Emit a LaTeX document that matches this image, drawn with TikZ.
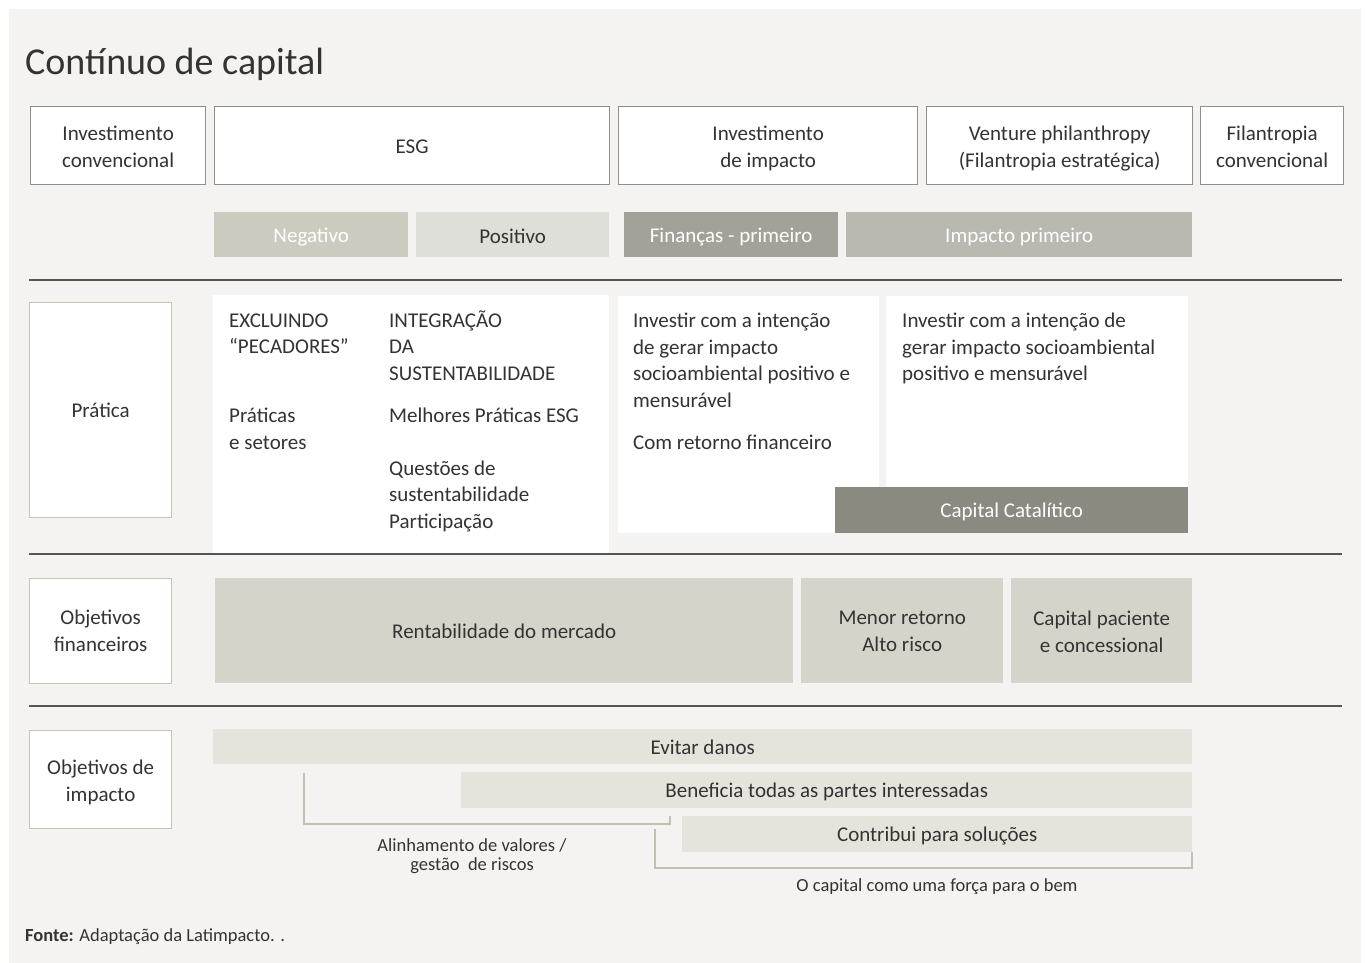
\documentclass[tikz,border=0pt]{standalone}
\usepackage{fontspec}
\setmainfont{Carlito}
\definecolor{bgc}{HTML}{F4F3F1}
\definecolor{topborder}{HTML}{8F8E88}
\definecolor{labborder}{HTML}{C7C4B4}
\definecolor{txt}{HTML}{333333}
\definecolor{negc}{HTML}{CDCBBF}
\definecolor{posc}{HTML}{DFDFDA}
\definecolor{finc}{HTML}{A3A29A}
\definecolor{impc}{HTML}{B9B9B2}
\definecolor{catc}{HTML}{8B8A80}
\definecolor{objc}{HTML}{D6D4CA}
\definecolor{goalc}{HTML}{E4E3DC}
\definecolor{linec}{HTML}{555555}
\definecolor{brc}{HTML}{C4C0B0}
\newcommand{\fntbody}{\fontsize{21}{26.8}\selectfont}
\newcommand{\fntsmall}{\fontsize{18.5}{19.2}\selectfont}
\newcommand{\fnttitle}{\fontsize{38}{44}\selectfont}
\begin{document}
\begin{tikzpicture}[x=1pt,y=-1pt,
  topbox/.style={draw=topborder, line width=1.3pt, fill=white, inner sep=0pt, anchor=north west},
  labbox/.style={draw=labborder, line width=1.3pt, fill=white, inner sep=0pt, anchor=north west},
  bar/.style={inner sep=0pt, anchor=north west},
  btxt/.style={inner sep=0pt, align=center, font=\fntbody, text=txt},
  wtxt/.style={inner sep=0pt, align=center, font=\fntbody, text=white},
  panel/.style={fill=white, inner sep=0pt, anchor=north west},
  ptxt/.style={inner sep=0pt, anchor=base west, font=\fntbody, text=txt},
  sepline/.style={draw=linec, line width=1.5pt},
  bracketline/.style={draw=brc, line width=1.3pt},
  smalltxt/.style={inner sep=0pt, align=center, font=\fntsmall, text=txt}
]
\useasboundingbox (0,0) rectangle (1365,963);
\fill[white] (0,0) rectangle (1365,963);
\fill[bgc] (9,9) rectangle (1361,963);

% title
\node[inner sep=0pt, anchor=base west, font=\fnttitle, text=txt] (title) at (25,75) {Contínuo de capital};

% top boxes
\node[topbox, minimum width=175, minimum height=78] (b1) at (30,106) {};
\node[btxt] (b1t) at ([yshift=-1pt]b1.center) {Investimento\\convencional};
\node[topbox, minimum width=395, minimum height=78] (b2) at (214,106) {};
\node[btxt] (b2t) at ([yshift=-1pt]b2.center) {ESG};
\node[topbox, minimum width=299, minimum height=78] (b3) at (618,106) {};
\node[btxt] (b3t) at ([yshift=-3pt]b3.center) {Investimento\\de impacto};
\node[topbox, minimum width=266, minimum height=78] (b4) at (926,106) {};
\node[btxt] (b4t) at ([yshift=-3pt]b4.center) {Venture philanthropy\\(Filantropia estratégica)};
\node[topbox, minimum width=143, minimum height=78] (b5) at (1200,106) {};
\node[btxt] (b5t) at ([yshift=-1pt]b5.center) {Filantropia\\convencional};

% sub bars
\node[bar, fill=negc, minimum width=194, minimum height=45] (neg) at (214,212) {};
\node[wtxt] (negt) at ([yshift=-2pt]neg.center) {Negativo};
\node[bar, fill=posc, minimum width=193, minimum height=45] (pos) at (416,212) {};
\node[btxt] (post) at ([yshift=-1.5pt]pos.center) {Positivo};
\node[bar, fill=finc, minimum width=214, minimum height=45] (fin) at (624,212) {};
\node[wtxt] (fint) at ([yshift=-2pt]fin.center) {Finanças - primeiro};
\node[bar, fill=impc, minimum width=346, minimum height=45] (imp) at (846,212) {};
\node[wtxt] (impt) at ([yshift=-2pt]imp.center) {Impacto primeiro};

% separator lines
\draw[sepline] (29,280) -- (1342,280);
\draw[sepline] (29,554) -- (1342,554);
\draw[sepline] (29,706) -- (1342,706);

% Prática row
\node[labbox, minimum width=142, minimum height=215] (lab1) at (29,302) {};
\node[btxt] (lab1t) at (lab1.center) {Prática};
\node[panel, minimum width=396, minimum height=258] (pan1) at (213,295) {};
\node[panel, minimum width=261, minimum height=237] (pan2) at (618,296) {};
\node[panel, minimum width=302, minimum height=200] (pan3) at (886,296) {};
\node[bar, fill=catc, minimum width=353, minimum height=46] (cat) at (835,487) {};
\node[wtxt] (catt) at ([yshift=-2pt]cat.center) {Capital Catalítico};

\node[ptxt] (t1) at (229,327) {EXCLUINDO};
\node[ptxt] (t2) at (229,353) {“PECADORES”};
\node[ptxt] (t3) at (229,422) {Práticas};
\node[ptxt] (t4) at (229,449) {e setores};

\node[ptxt] (u1) at (389,327) {INTEGRAÇÃO};
\node[ptxt] (u2) at (389,353) {DA};
\node[ptxt] (u3) at (389,380) {SUSTENTABILIDADE};
\node[ptxt] (u4) at (389,422) {Melhores Práticas ESG};
\node[ptxt] (u5) at (389,475) {Questões de};
\node[ptxt] (u6) at (389,501) {sustentabilidade};
\node[ptxt] (u7) at (389,528) {Participação};

\node[ptxt] (v1) at (633,327) {Investir com a intenção};
\node[ptxt] (v2) at (633,354) {de gerar impacto};
\node[ptxt] (v3) at (633,380) {socioambiental positivo e};
\node[ptxt] (v4) at (633,407) {mensurável};
\node[ptxt] (v5) at (633,449) {Com retorno financeiro};

\node[ptxt] (w1) at (902,327) {Investir com a intenção de};
\node[ptxt] (w2) at (902,354) {gerar impacto socioambiental};
\node[ptxt] (w3) at (902,380) {positivo e mensurável};

% Objetivos financeiros row
\node[labbox, minimum width=142, minimum height=105] (lab2) at (29,578) {};
\node[btxt] (lab2t) at (lab2.center) {Objetivos\\financeiros};
\node[bar, fill=objc, minimum width=578, minimum height=105] (o1) at (215,578) {};
\node[btxt] (o1t) at ([yshift=-1pt]o1.center) {Rentabilidade do mercado};
\node[bar, fill=objc, minimum width=202, minimum height=105] (o2) at (801,578) {};
\node[btxt] (o2t) at ([yshift=-1pt]o2.center) {Menor retorno\\Alto risco};
\node[bar, fill=objc, minimum width=181, minimum height=105] (o3) at (1011,578) {};
\node[btxt] (o3t) at ([yshift=-1pt]o3.center) {Capital paciente\\e concessional};

% Objetivos de impacto row
\node[labbox, minimum width=142, minimum height=98] (lab3) at (29,730) {};
\node[btxt] (lab3t) at ([yshift=-2.5pt]lab3.center) {Objetivos de\\impacto};
\node[bar, fill=goalc, minimum width=979, minimum height=35] (g1) at (213,729) {};
\node[btxt] (g1t) at ([yshift=-1pt]g1.center) {Evitar danos};
\node[bar, fill=goalc, minimum width=731, minimum height=36] (g2) at (461,772) {};
\node[btxt] (g2t) at ([yshift=-2pt]g2.center) {Beneficia todas as partes interessadas};
\node[bar, fill=goalc, minimum width=510, minimum height=36] (g3) at (682,816) {};
\node[btxt] (g3t) at ([yshift=-2pt]g3.center) {Contribui para soluções};

% brackets
\coordinate (k1a) at (304,773);
\coordinate (k1b) at (304,824);
\coordinate (k1c) at (670,824);
\coordinate (k1d) at (670,816);
\draw[bracketline] (k1a) -- (k1b) -- (k1c) -- (k1d);
\coordinate (k2a) at (655,829);
\coordinate (k2b) at (655,868);
\coordinate (k2c) at (1192,868);
\coordinate (k2d) at (1192,852);
\draw[bracketline] (k2a) -- (k2b) -- (k2c) -- (k2d);

\node[smalltxt] (al) at (472,856) {Alinhamento de valores /\\gestão\ \ de riscos};
\node[smalltxt] (cf) at (937,887) {O capital como uma força para o bem};

% source
\node[inner sep=0pt, anchor=base west, font=\fontsize{18.5}{20}\selectfont, text=txt] (src) at (25,941) {\textbf{Fonte:} Adaptação da Latimpacto. .};
\end{tikzpicture}
\end{document}
